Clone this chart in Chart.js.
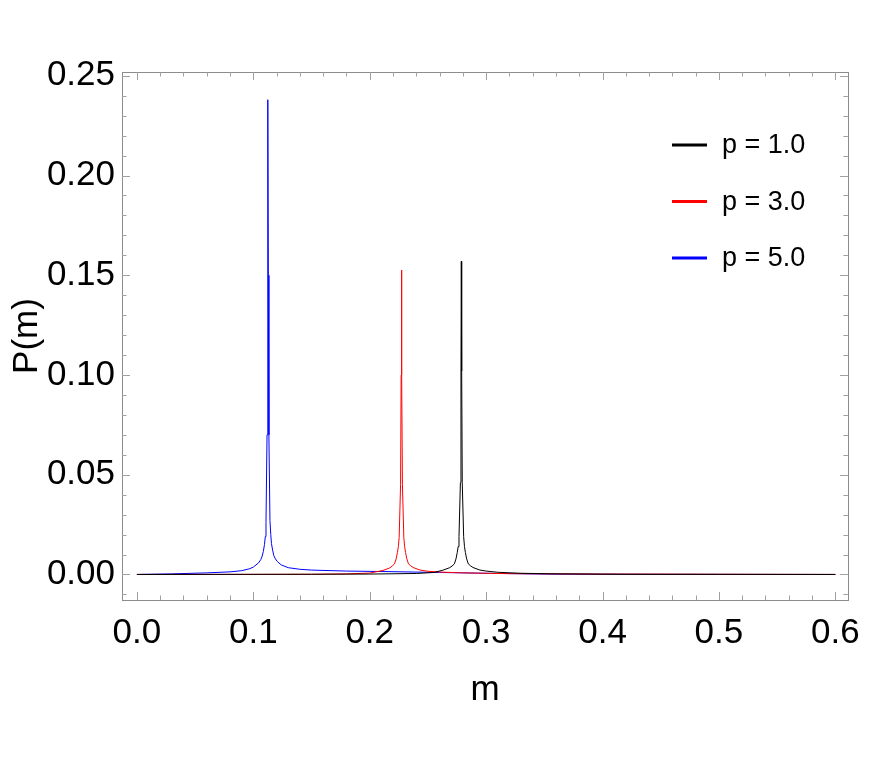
<!DOCTYPE html>
<html>
<head>
<meta charset="utf-8">
<script src="https://cdn.jsdelivr.net/npm/chart.js@4.4.1/dist/chart.umd.min.js"></script>
<style>
    html, body { margin: 0; padding: 0; background: #fff; }
</style>
</head>
<body>
<canvas id="peakChart" width="872" height="763"></canvas>
<script>
// values
const seriesLabels = ["p = 1.0", "p = 3.0", "p = 5.0"];
const seriesColors = ["#000000", "#ff0000", "#0000ff"];

const blackX = [0, 0.15, 0.2, 0.24, 0.255, 0.2627, 0.2687, 0.2707, 0.2727, 0.2741, 0.2752, 0.2760, 0.2767, 0.2779, 0.2784, 0.2787,
    0.2790, 0.2795, 0.2807, 0.2814, 0.2822, 0.2833, 0.2847, 0.2867, 0.2887, 0.2947, 0.30, 0.31, 0.33, 0.36, 0.42, 0.5, 0.6];
const blackY = [0, 0.0001, 0.0002, 0.0005, 0.0010, 0.0021, 0.0034, 0.0042, 0.0053, 0.0078, 0.0110, 0.0140, 0.0190, 0.0460, 0.1020, 0.1570,
    0.1020, 0.0460, 0.0190, 0.0140, 0.0110, 0.0078, 0.0053, 0.0043, 0.0035, 0.0022, 0.0017, 0.0011, 0.0006, 0.0003, 0.0001, 0.00005, 0];

const redX = [0, 0.1, 0.15, 0.18, 0.2, 0.2113, 0.2173, 0.2193, 0.2213, 0.2227, 0.2238, 0.2246, 0.2253, 0.2265, 0.2270, 0.2273,
    0.2276, 0.2281, 0.2293, 0.2300, 0.2308, 0.2319, 0.2333, 0.2353, 0.2373, 0.2433, 0.25, 0.26, 0.28, 0.32, 0.4, 0.5, 0.6];
const redY = [0, 0.00005, 0.0001, 0.0003, 0.0007, 0.0020, 0.0033, 0.0042, 0.0053, 0.0078, 0.0110, 0.0140, 0.0185, 0.0450, 0.1000, 0.1526,
    0.1000, 0.0450, 0.0185, 0.0140, 0.0110, 0.0078, 0.0053, 0.0043, 0.0035, 0.0022, 0.0016, 0.0012, 0.0008, 0.0004, 0.0002, 0.0001, 0];

const blueX = [0, 0.03, 0.06, 0.08, 0.09, 0.097, 0.1, 0.1045, 0.1065, 0.1076, 0.1086, 0.1096, 0.1103, 0.1109, 0.1118, 0.1123, 0.1126,
    0.1129, 0.1134, 0.1143, 0.1150, 0.1156, 0.1166, 0.1176, 0.1190, 0.1206, 0.124, 0.13, 0.14, 0.15, 0.18, 0.22, 0.26, 0.3, 0.35, 0.4, 0.5, 0.6];
const blueY = [0, 0.0003, 0.0008, 0.0013, 0.0019, 0.0029, 0.0037, 0.0058, 0.0075, 0.0092, 0.0115, 0.0150, 0.0190, 0.0260, 0.0700, 0.1500, 0.2380,
    0.1500, 0.0700, 0.0270, 0.0200, 0.0155, 0.0122, 0.0095, 0.0078, 0.0065, 0.0048, 0.0034, 0.0026, 0.0022, 0.0017, 0.0014, 0.0010, 0.0006, 0.0002, 0.0001, 0.00005, 0];

const xTicks = [0, 0.1, 0.2, 0.3, 0.4, 0.5, 0.6];
const yTicks = [0, 0.05, 0.10, 0.15, 0.20, 0.25];

const FONT = "'Liberation Sans', Arial, sans-serif";

function toPoints(xs, ys) {
    return xs.map((x, i) => ({ x: x, y: ys[i] }));
}

// Mathematica style frame with inward major/minor ticks on all sides
const framePlugin = {
    id: 'frame',
    afterDraw(chart) {
        const ctx = chart.ctx;
        const a = chart.chartArea;
        const xs = chart.scales.x;
        const ys = chart.scales.y;
        ctx.save();
        ctx.strokeStyle = '#8c8c8c';
        ctx.lineWidth = 1;
        ctx.strokeRect(Math.round(a.left) + 0.5, Math.round(a.top) + 0.5,
            Math.round(a.right - a.left), Math.round(a.bottom - a.top));
        ctx.strokeStyle = '#a0a0a0';
        ctx.beginPath();
        for (let k = 0; k <= 30; k++) {
            const px = Math.round(xs.getPixelForValue(k * 0.02)) + 0.5;
            const len = k % 5 === 0 ? 8 : 4.5;
            ctx.moveTo(px, a.bottom); ctx.lineTo(px, a.bottom - len);
            ctx.moveTo(px, a.top); ctx.lineTo(px, a.top + len);
        }
        for (let k = -1; k <= 25; k++) {
            const py = Math.round(ys.getPixelForValue(k * 0.01)) + 0.5;
            const len = k % 5 === 0 ? 8 : 4.5;
            ctx.moveTo(a.left, py); ctx.lineTo(a.left + len, py);
            ctx.moveTo(a.right, py); ctx.lineTo(a.right - len, py);
        }
        ctx.stroke();
        ctx.restore();
    }
};

const legendPlugin = {
    id: 'insideLegend',
    afterDraw(chart) {
        const ctx = chart.ctx;
        ctx.save();
        ctx.font = "27px " + FONT;
        ctx.textBaseline = 'middle';
        ctx.fillStyle = '#000';
        chart.data.datasets.forEach((ds, i) => {
            const y = 145 + i * 56.5;
            ctx.strokeStyle = ds.borderColor;
            ctx.lineWidth = 3;
            ctx.beginPath();
            ctx.moveTo(672, y); ctx.lineTo(707, y);
            ctx.stroke();
            ctx.fillText(ds.label, 722, y + 1);
        });
        ctx.restore();
    }
};

const ctx = document.getElementById('peakChart').getContext('2d');
new Chart(ctx, {
    type: 'line',
    data: {
        datasets: [
            { label: seriesLabels[0], data: toPoints(blackX, blackY), borderColor: seriesColors[0] },
            { label: seriesLabels[1], data: toPoints(redX, redY), borderColor: seriesColors[1] },
            { label: seriesLabels[2], data: toPoints(blueX, blueY), borderColor: seriesColors[2] }
        ]
    },
    options: {
        responsive: false,
        animation: false,
        devicePixelRatio: 1,
        layout: { padding: { top: 72, right: 19, left: 0, bottom: 0 } },
        elements: {
            point: { radius: 0 },
            line: { borderWidth: 1, tension: 0 }
        },
        plugins: {
            legend: { display: false },
            tooltip: { enabled: false }
        },
        scales: {
            x: {
                type: 'linear',
                min: -0.0128,
                max: 0.6108,
                grid: { display: false, drawTicks: false },
                border: { display: false },
                afterBuildTicks: s => { s.ticks = xTicks.map(v => ({ value: v })); },
                afterFit: s => { s.height = 163; },
                ticks: {
                    autoSkip: false, maxRotation: 0, padding: 12, color: '#000',
                    font: { family: FONT, size: 35 },
                    callback: v => Number(v).toFixed(1)
                },
                title: {
                    display: true, text: 'm', color: '#000',
                    font: { family: FONT, size: 35 },
                    padding: { top: 0, bottom: 52 }
                }
            },
            y: {
                type: 'linear',
                min: -0.0128,
                max: 0.2519,
                grid: { display: false, drawTicks: false },
                border: { display: false },
                afterBuildTicks: s => { s.ticks = yTicks.map(v => ({ value: v })); },
                afterFit: s => { s.width = 122; },
                ticks: {
                    autoSkip: false, padding: 7, color: '#000',
                    font: { family: FONT, size: 35 },
                    callback: v => Number(v).toFixed(2)
                },
                title: {
                    display: true, text: 'P(m)', color: '#000',
                    font: { family: FONT, size: 35 },
                    padding: { top: 6, bottom: 0 }
                }
            }
        }
    },
    plugins: [framePlugin, legendPlugin]
});
</script>
</body>
</html>
